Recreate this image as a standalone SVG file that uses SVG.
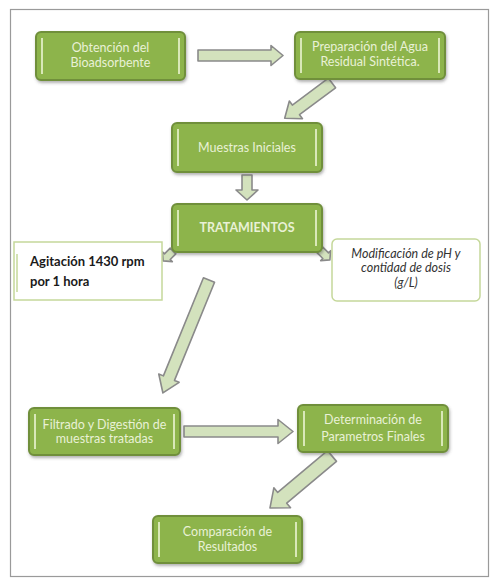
<svg xmlns="http://www.w3.org/2000/svg" width="490" height="580" viewBox="0 0 490 580">
<defs>
<filter id="sh" x="-10%" y="-10%" width="130%" height="140%">
<feDropShadow dx="1" dy="2" stdDeviation="1.5" flood-color="#555" flood-opacity="0.45"/>
</filter>
</defs>
<style>
.box{fill:#8db44b;stroke:#6f8f3a;stroke-width:2;filter:url(#sh)}
.bar{stroke:#d9e8b8;stroke-width:2}
.t{font-family:Lato,"Open Sans",sans-serif;font-size:12.5px;fill:#e9f1d6;text-anchor:middle}
.arr{fill:#d3e2bd;stroke:#8a8a8a;stroke-width:1.6;stroke-linejoin:round}
.note{fill:#fff;stroke:#c5d89a;stroke-width:1.5}
.nt{font-family:Lato,"Open Sans",sans-serif;font-size:13px;font-weight:bold;fill:#1a1a1a}
.it{font-family:Lato,"Open Sans",sans-serif;font-size:12.5px;fill:#333;font-style:italic;text-anchor:middle}
</style>
<rect x="0" y="0" width="490" height="580" fill="#fff"/>
<rect x="10.5" y="9.5" width="478" height="567" fill="#fff" stroke="#9a9a9a" stroke-width="1.2"/>

<g id="connectors">
<polygon class="arr" transform="translate(198,55.5)" points="0,-5.5 73,-5.5 73,-10 85,0 73,10 73,5.5 0,5.5"/>
<polygon class="arr" transform="translate(332,83) rotate(143.3)" points="0,-6 45,-6 45,-11 59,0 45,11 45,6 0,6"/>
<polygon class="arr" transform="translate(247,175) rotate(90)" points="0,-5 15,-5 15,-11 25,0 15,11 15,5 0,5"/>
<polygon class="arr" transform="translate(173,251) rotate(135)" points="0,-4 8,-4 8,-7 14,0 8,7 8,4 0,4"/>
<polygon class="arr" transform="translate(320,250) rotate(45)" points="0,-4 8,-4 8,-7 14,0 8,7 8,4 0,4"/>
<polygon class="arr" transform="translate(209,280) rotate(112.2)" points="0,-6 106,-6 106,-11 122,0 106,11 106,6 0,6"/>
<polygon class="arr" transform="translate(184,431.5)" points="0,-5.5 94,-5.5 94,-12 109,0 94,12 94,5.5 0,5.5"/>
<polygon class="arr" transform="translate(332,456) rotate(140)" points="0,-7 65,-7 65,-13 81,0 65,13 65,7 0,7"/>
</g>

<g id="n1">
<rect class="box" x="36" y="32" width="149" height="48" rx="5"/>
<line class="bar" x1="42" y1="38" x2="42" y2="74"/><line class="bar" x1="179" y1="38" x2="179" y2="74"/>
<text class="t" x="110.5" y="52">Obtención del</text>
<text class="t" x="110.5" y="67">Bioadsorbente</text>
</g>
<g id="n2">
<rect class="box" x="295" y="32" width="150" height="47" rx="5"/>
<line class="bar" x1="301" y1="38" x2="301" y2="73"/><line class="bar" x1="439" y1="38" x2="439" y2="73"/>
<text class="t" x="370" y="51">Preparación del Agua</text>
<text class="t" x="370" y="66">Residual Sintética.</text>
</g>
<g id="n3">
<rect class="box" x="172" y="123" width="150" height="49" rx="5"/>
<line class="bar" x1="178" y1="129" x2="178" y2="166"/><line class="bar" x1="316" y1="129" x2="316" y2="166"/>
<text class="t" x="247" y="152">Muestras Iniciales</text>
</g>
<g id="n4">
<rect class="box" x="172" y="204" width="150" height="48" rx="5"/>
<line class="bar" x1="178" y1="210" x2="178" y2="246"/><line class="bar" x1="316" y1="210" x2="316" y2="246"/>
<text class="t" x="247" y="232" font-weight="bold">TRATAMIENTOS</text>
</g>
<g id="n5">
<rect class="note" x="14" y="242" width="148" height="58"/>
<line x1="17" y1="254" x2="17" y2="292" stroke="#c5d89a" stroke-width="1.5"/>
<text class="nt" x="30" y="266">Agitación 1430 rpm</text>
<text class="nt" x="30" y="286">por 1 hora</text>
</g>
<g id="n6">
<rect class="note" x="332" y="239" width="148" height="62" rx="5"/>
<text class="it" x="406" y="258">Modificación de pH y</text>
<text class="it" x="406" y="272">contidad de dosis</text>
<text class="it" x="406" y="287">(g/L)</text>
</g>
<g id="n7">
<rect class="box" x="29" y="408" width="151" height="47" rx="5"/>
<line class="bar" x1="35" y1="414" x2="35" y2="449"/><line class="bar" x1="174" y1="414" x2="174" y2="449"/>
<text class="t" x="104.5" y="429">Filtrado y Digestión de</text>
<text class="t" x="104.5" y="443">muestras tratadas</text>
</g>
<g id="n8">
<rect class="box" x="298" y="405" width="150" height="47" rx="5"/>
<line class="bar" x1="304" y1="411" x2="304" y2="446"/><line class="bar" x1="442" y1="411" x2="442" y2="446"/>
<text class="t" x="373" y="424">Determinación de</text>
<text class="t" x="373" y="441">Parametros Finales</text>
</g>
<g id="n9">
<rect class="box" x="153" y="516" width="149" height="47" rx="5"/>
<line class="bar" x1="159" y1="522" x2="159" y2="557"/><line class="bar" x1="296" y1="522" x2="296" y2="557"/>
<text class="t" x="227.5" y="536">Comparación de</text>
<text class="t" x="227.5" y="551">Resultados</text>
</g>
</svg>
